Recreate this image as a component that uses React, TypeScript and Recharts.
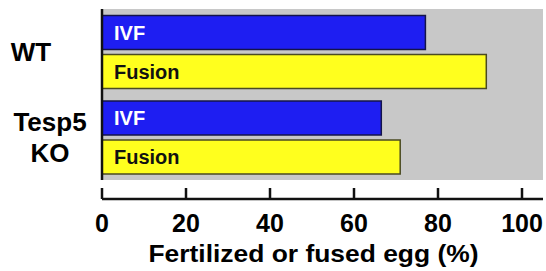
import { BarChart, Bar, XAxis, YAxis, CartesianGrid, LabelList, Label } from "recharts";

const genotypes = ["WT", "Tesp5 KO"];
const ivf = [77, 66.5];
const fusion = [91.5, 71];
const seriesNames = ["IVF", "Fusion"];
const xTicks = [0, 20, 40, 60, 80, 100];

const data = genotypes.map((g, i) => ({ name: g, ivf: ivf[i], fusion: fusion[i] }));

const FONT = "Arial, 'Liberation Sans', Helvetica, sans-serif";

const YTick = (props: any) => {
  const { x, y, payload } = props;
  const lines = String(payload.value).split(" ");
  // labels in the figure are not aligned to the axis, they sit roughly centred in the margin
  const cx = lines.length > 1 ? x - 52 : x - 71;
  const first = lines.length > 1 ? y - 6.5 : y + 9;
  return (
    <text x={cx} y={first} textAnchor="middle" fontFamily={FONT} fontWeight="bold" fontSize={26} fill="#000">
      {lines.map((l, i) => (
        <tspan key={i} x={cx} y={first + i * 31}>
          {l}
        </tspan>
      ))}
    </text>
  );
};

const XTick = (props: any) => {
  const { x, y, payload } = props;
  return (
    <g>
      <line x1={x} x2={x} y1={y - 11} y2={y} stroke="#111" strokeWidth={2.5} />
      <text x={x} y={y + 33} textAnchor="middle" fontFamily={FONT} fontWeight="bold" fontSize={25} fill="#000">
        {payload.value}
      </text>
    </g>
  );
};

const Title = (props: any) => {
  const { viewBox } = props;
  const cx = viewBox.x + viewBox.width / 2 - 9;
  return (
    <text
      x={cx}
      y={262}
      textAnchor="middle"
      fontFamily={FONT}
      fontWeight="bold"
      fontSize={24}
      fill="#000"
      textLength={330}
      lengthAdjust="spacingAndGlyphs"
    >
      Fertilized or fused egg (%)
    </text>
  );
};

export default function App() {
  return (
    <div style={{ position: "absolute", left: 0, top: 0 }}>
      <BarChart
        width={546}
        height={271}
        data={data}
        layout="vertical"
        margin={{ top: 9, right: 3, left: 0, bottom: 0 }}
        barCategoryGap={6.5}
        barGap={5}
      >
        <CartesianGrid fill="#c8c8c8" horizontal={false} vertical={false} />
        <XAxis xAxisId={0} type="number" domain={[0, 105]} height={19} axisLine={false} tick={false} tickLine={false} />
        <XAxis
          xAxisId={1}
          type="number"
          domain={[0, 105]}
          ticks={xTicks}
          height={72}
          axisLine={{ stroke: "#111", strokeWidth: 2.5 }}
          tickLine={false}
          tickSize={0}
          tickMargin={0}
          tick={<XTick />}
          interval={0}
        >
          <Label content={<Title />} />
        </XAxis>
        <YAxis
          type="category"
          dataKey="name"
          width={102}
          axisLine={{ stroke: "#111", strokeWidth: 2.5 }}
          tickLine={false}
          tickSize={0}
          tickMargin={0}
          tick={<YTick />}
          interval={0}
        />
        <Bar xAxisId={1} dataKey="ivf" fill="#1e1ef2" stroke="#14144a" strokeWidth={1.5} isAnimationActive={false}>
          <LabelList
            dataKey="ivf"
            position="insideLeft"
            offset={12}
            formatter={() => seriesNames[0]}
            fill="#fff"
            fontFamily={FONT}
            fontWeight="bold"
            fontSize={20}
          />
        </Bar>
        <Bar xAxisId={1} dataKey="fusion" fill="#ffff1e" stroke="#4a4a22" strokeWidth={1.5} isAnimationActive={false}>
          <LabelList
            dataKey="fusion"
            position="insideLeft"
            offset={12}
            formatter={() => seriesNames[1]}
            fill="#111"
            fontFamily={FONT}
            fontWeight="bold"
            fontSize={20}
          />
        </Bar>
      </BarChart>
    </div>
  );
}
